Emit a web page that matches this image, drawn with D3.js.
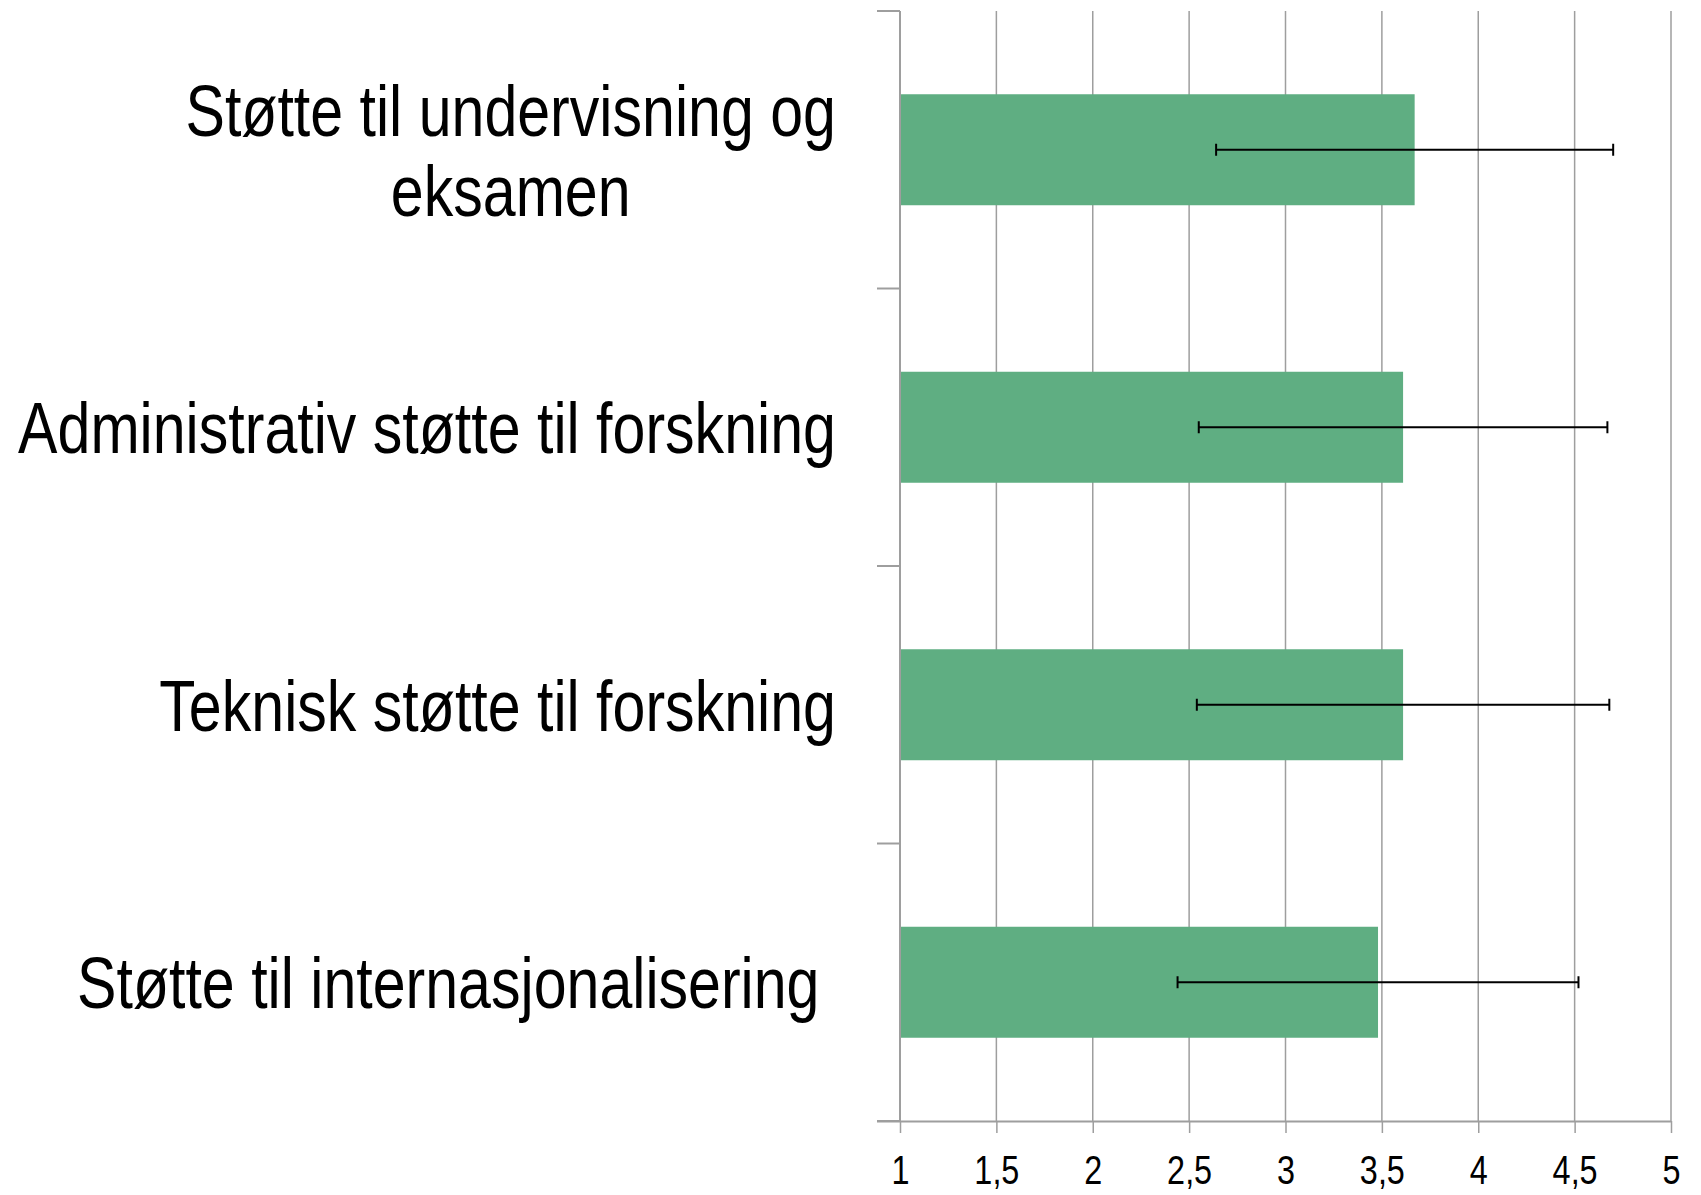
<!DOCTYPE html>
<html>
<head>
<meta charset="utf-8">
<script src="https://cdn.jsdelivr.net/npm/d3@7"></script>
<style>
  html, body { margin: 0; padding: 0; background: #ffffff; }
  svg { display: block; }
  .lbl { font-family: "Liberation Sans Narrow", "Arial Narrow", "Liberation Sans", Arial, sans-serif; fill: #000; }
</style>
</head>
<body>
<svg id="chart" width="1701" height="1195"></svg>
<script>
// ---- data ----
const categories = [
  "Støtte til undervisning og eksamen",
  "Administrativ støtte til forskning",
  "Teknisk støtte til forskning",
  "Støtte til internasjonalisering"
];
const labelLines = [
  ["Støtte til undervisning og", "eksamen"],
  ["Administrativ støtte til forskning"],
  ["Teknisk støtte til forskning"],
  ["Støtte til internasjonalisering "]
];
const means = [3.67, 3.61, 3.61, 3.48];
const errors = [1.03, 1.06, 1.07, 1.04];
const xTicks = [1, 1.5, 2, 2.5, 3, 3.5, 4, 4.5, 5];
const xTickLabels = ["1", "1,5", "2", "2,5", "3", "3,5", "4", "4,5", "5"];

// ---- layout ----
const svg = d3.select("#chart");
const plotLeft = 900, plotRight = 1671, plotTop = 11, plotBottom = 1121;

const x = d3.scaleLinear().domain([1, 5]).range([plotLeft, plotRight]);
const y = d3.scaleBand().domain(categories).range([plotTop, plotBottom])
  .paddingInner(0.6).paddingOuter(0.3);

const gridColor = "#9e9e9e";

// measure font to emulate a narrow face
const probe = svg.append("text").attr("class", "lbl").attr("font-size", 73)
  .text("Administrativ støtte til forskning");
const probeW = probe.node().getComputedTextLength();
probe.remove();
const sx = Math.min(1, 818 / probeW);

// vertical gridlines
svg.append("g").selectAll("line").data(xTicks).join("line")
  .attr("x1", d => x(d)).attr("x2", d => x(d))
  .attr("y1", plotTop).attr("y2", plotBottom)
  .attr("stroke", gridColor).attr("stroke-width", 1.5);

// bars
svg.append("g").selectAll("rect").data(categories).join("rect")
  .attr("x", x(1))
  .attr("y", d => y(d))
  .attr("width", (d, i) => x(means[i]) - x(1))
  .attr("height", y.bandwidth())
  .attr("fill", "#5fae82");

// error bars
const eb = svg.append("g").attr("stroke", "#000").attr("stroke-width", 2);
categories.forEach((c, i) => {
  const cy = y(c) + y.bandwidth() / 2;
  const lo = x(means[i] - errors[i]), hi = x(means[i] + errors[i]);
  eb.append("line").attr("x1", lo).attr("x2", hi).attr("y1", cy).attr("y2", cy);
  eb.append("line").attr("x1", lo).attr("x2", lo).attr("y1", cy - 6).attr("y2", cy + 6);
  eb.append("line").attr("x1", hi).attr("x2", hi).attr("y1", cy - 6).attr("y2", cy + 6);
});

// x axis (bottom)
const xAxis = d3.axisBottom(x).tickValues(xTicks)
  .tickFormat((d, i) => xTickLabels[i]).tickSize(12).tickPadding(23);
const gx = svg.append("g").attr("transform", `translate(0,${plotBottom})`).call(xAxis);
gx.select(".domain").attr("stroke", gridColor).attr("stroke-width", 2)
  .attr("d", `M${plotLeft - 23},0.5H${plotRight}`);
gx.selectAll(".tick line").attr("stroke", gridColor).attr("stroke-width", 1.5);
gx.selectAll(".tick text").attr("class", "lbl").attr("font-size", 40)
  .attr("fill", "#000").attr("dy", "0.71em")
  .attr("transform", `scale(${sx},1)`);

// y axis (left) with category boundary ticks
const step = y.step();
const boundaries = d3.range(categories.length + 1).map(i => y(categories[0]) - step * y.paddingOuter() + i * step);
const gy = svg.append("g");
gy.append("line").attr("x1", plotLeft).attr("x2", plotLeft)
  .attr("y1", plotTop).attr("y2", plotBottom)
  .attr("stroke", gridColor).attr("stroke-width", 2);
gy.selectAll("line.bt").data(boundaries).join("line").attr("class", "bt")
  .attr("x1", plotLeft - 23).attr("x2", plotLeft)
  .attr("y1", d => d).attr("y2", d => d)
  .attr("stroke", gridColor).attr("stroke-width", 2);

// category labels
const labelRight = 836, fontSize = 73, lineH = 80;
categories.forEach((c, i) => {
  const cy = y(c) + y.bandwidth() / 2;
  const lines = labelLines[i];
  const g = svg.append("g");
  const texts = lines.map((t, j) => g.append("text").attr("class", "lbl")
    .attr("font-size", fontSize).style("white-space", "pre")
    .attr("text-anchor", "middle")
    .text(t));
  const widths = texts.map(t => t.node().getComputedTextLength() * sx);
  const maxW = d3.max(widths);
  const cx = labelRight - maxW / 2;
  texts.forEach((t, j) => t.attr("transform",
    `translate(${cx},${cy + 26 + (j - (lines.length - 1) / 2) * lineH}) scale(${sx},1)`));
});
</script>
</body>
</html>
